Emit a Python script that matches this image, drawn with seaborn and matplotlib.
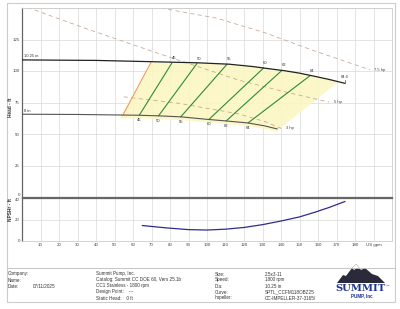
import matplotlib
matplotlib.use("Agg")
import matplotlib.pyplot as plt
import seaborn as sns
import pandas as pd
import numpy as np
from matplotlib.patches import Polygon, Rectangle
from matplotlib.lines import Line2D

# ---------------- data ----------------
dia_max_q = [0, 40, 70, 95, 112, 125, 132, 142, 150, 157.5, 166, 174.6]
dia_max_h = [108.8, 108.4, 107.4, 106.5, 105.4, 103.5, 102.1, 100.2, 98.3, 96.0, 93.3, 90.2]
dia_min_q = [0, 30, 63, 74, 86, 101, 110, 122, 131, 138]
dia_min_h = [65.7, 65.5, 64.9, 64.4, 63.6, 61.5, 60.4, 58.8, 56.5, 54.0]

eff_labels = ["45", "50", "55", "60", "62", "64"]
eff_top_q = [81.0, 94.6, 110.9, 130.6, 140.5, 155.7]
eff_top_h = [106.3, 106.0, 105.5, 102.4, 100.5, 96.3]
eff_bot_q = [63.4, 73.8, 85.8, 101.0, 110.4, 122.2]
eff_bot_h = [64.9, 64.4, 63.6, 61.5, 60.4, 58.8]
end_label = "64.6"

hp_labels = ["7.5 hp", "5 hp", "3 hp"]
hp75_q = [75, 105, 131, 158, 188]
hp75_h = [150, 142, 130.5, 116, 101]
hp5_q = [3, 35, 73, 117, 142, 166]
hp5_h = [150.4, 133.5, 114.3, 92.8, 83.5, 75.3]
hp3_q = [55, 85, 117, 131, 140]
hp3_h = [79.5, 74.3, 66.0, 60.0, 54.5]

region_q = [52.7, 69.7, 82, 95, 112, 125, 132, 142, 150, 157.5, 166, 171, 137.6, 131, 122, 110, 101, 86, 74, 63.4]
region_h = [62.3, 107.2, 106.3, 106.0, 105.4, 103.5, 102.1, 100.2, 98.3, 96.0, 93.3, 91.4, 52.0, 54.0, 56.3, 57.9, 59.0, 61.1, 61.9, 62.4]
por_q = [54.5, 69.7]
por_h = [64.9, 106.8]

npsh_q = [65, 78, 90, 100, 110, 120, 130, 140, 150, 158, 166, 174.6]
npsh_h = [14.4, 12.2, 10.6, 10.2, 11.0, 12.6, 15.2, 18.6, 22.4, 26.6, 31.2, 36.8]

x_ticks = [10, 20, 30, 40, 50, 60, 70, 80, 90, 100, 110, 120, 130, 140, 150, 160, 170, 180, 190]
x_tick_labels = ["10", "20", "30", "40", "50", "60", "70", "80", "90", "100", "110", "120",
                 "130", "140", "150", "160", "170", "180", "US gpm"]
head_ticks = [0, 25, 50, 75, 100, 125]
npsh_ticks = [0, 20, 40]

info_left_keys = ["Company:", "Name:", "Date:"]
info_left_vals = ["", "", "07/11/2025"]
info_mid = ["Summit Pump, Inc.", "Catalog: Summit CC DOE 60, Vers 25.1b",
            "CC1 Stainless - 1800 rpm", "Design Point:    ---", "Static Head:    0 ft"]
info_right_keys = ["Size:", "Speed:", "Dia:", "Curve:", "Impeller:"]
info_right_vals = ["2.5x3-11", "1800 rpm", "10.25 in", "SPTL_CCFM118OBZ25", "CC-IMPELLER-37-3165/"]

# ---------------- styling ----------------
sns.set_style("white")
plt.rcParams['font.family'] = ['Liberation Sans', 'DejaVu Sans']

W, H = 400, 309
fig = plt.figure(figsize=(W / 100, H / 100), dpi=100)
fig.patch.set_facecolor("white")

def fx(px):
    return px / W

def fy(py):
    return 1 - py / H

# outer frame
fig.add_artist(Rectangle((fx(7), fy(302)), fx(395) - fx(7), fy(3) - fy(302),
                         transform=fig.transFigure, fill=False, ec="#cccccc", lw=0.8))
fig.add_artist(Line2D([fx(7), fx(395)], [fy(268), fy(268)], transform=fig.transFigure,
                      color="#bbbbbb", lw=0.6))

L, R = 22, 392
ax = fig.add_axes([fx(L), fy(197), fx(R) - fx(L), fy(8) - fy(197)])
ax2 = fig.add_axes([fx(L), fy(241), fx(R) - fx(L), fy(198) - fy(241)])

grid_c = "#d9d9d9"
for a in (ax, ax2):
    a.set_xlim(0, 200)
    a.set_xticks(x_ticks)
    a.grid(True, color=grid_c, lw=0.5)
    a.tick_params(length=0, labelsize=3.2, colors="#444444", pad=1.5)
    for s in a.spines.values():
        s.set_color("#cccccc")
        s.set_linewidth(0.6)
    a.spines['left'].set_color("#666666")
    a.spines['left'].set_linewidth(0.9)
    a.set_axisbelow(True)

ax.set_ylim(0, 150)
ax.set_yticks(head_ticks + [150])
ax.set_yticklabels([str(t) for t in head_ticks] + [""])
ax.set_xticklabels([])
ax.spines['bottom'].set_color("#666666")
ax.spines['bottom'].set_linewidth(0.9)
ax.get_yticklabels()[0].set_va("bottom")

ax2.set_ylim(0, 40)
ax2.set_yticks(npsh_ticks)
ax2.set_yticklabels([str(t) for t in npsh_ticks])
ax2.set_xticklabels(x_tick_labels)
ax2.spines['top'].set_color("#666666")
ax2.spines['top'].set_linewidth(0.9)
ax2.get_yticklabels()[-1].set_va("top")

fig.text(fx(10), fy(107), "Head - ft", rotation=90, ha="center", va="center",
         fontsize=3.4, color="#333333", fontweight="bold")
fig.text(fx(10), fy(210), "NPSHr - ft", rotation=90, ha="center", va="center",
         fontsize=3.4, color="#333333", fontweight="bold")

# POR region
ax.add_patch(Polygon(np.column_stack([region_q, region_h]), closed=True,
                     fc="#fbf7c2", ec="none", alpha=0.9, zorder=1))
sns.lineplot(x=por_q, y=por_h, ax=ax, color="#f0906a", lw=0.7, zorder=3, sort=False)

# hp lines
for q, h in [(hp75_q, hp75_h), (hp5_q, hp5_h), (hp3_q, hp3_h)]:
    sns.lineplot(x=q, y=h, ax=ax, color="#c9aa96", lw=0.6, dashes=False,
                 linestyle=(0, (5, 4)), zorder=2, sort=False)
for lab, q, h in zip(hp_labels, [hp75_q, hp5_q, hp3_q], [hp75_h, hp5_h, hp3_h]):
    ax.text(q[-1] + 2.5, h[-1], lab, fontsize=3.0, color="#444444", va="center", ha="left")

# efficiency lines
for tq, th, bq, bh in zip(eff_top_q, eff_top_h, eff_bot_q, eff_bot_h):
    sns.lineplot(x=[bq, tq], y=[bh, th], ax=ax, color="#2e8b3a", lw=0.8, zorder=4, sort=False)
for lab, tq, th, bq, bh in zip(eff_labels, eff_top_q, eff_top_h, eff_bot_q, eff_bot_h):
    ax.text(tq + 1.0, th + 2.3, lab, fontsize=3.0, color="#333333", ha="center", va="bottom")
    ax.text(bq, bh - 2.2, lab, fontsize=3.0, color="#333333", ha="center", va="top")

# diameter curves
sns.lineplot(x=dia_max_q, y=dia_max_h, ax=ax, color="#222222", lw=0.9, zorder=5, sort=False)
sns.lineplot(x=dia_min_q, y=dia_min_h, ax=ax, color="#555555", lw=0.8, zorder=5, sort=False)
ax.text(1.2, dia_max_h[0] + 1.2, "10.25 in", fontsize=3.0, color="#333333", va="bottom")
ax.text(1.2, dia_min_h[0] + 1.2, "8 in", fontsize=3.0, color="#333333", va="bottom")
ax.plot([dia_max_q[-1], dia_max_q[-1]], [dia_max_h[-1], dia_max_h[-1] + 2.5],
        color="#2e8b3a", lw=0.6, zorder=5)
ax.text(dia_max_q[-1], dia_max_h[-1] + 3.2, end_label, fontsize=3.0, color="#333333",
        ha="center", va="bottom")

# NPSH curve
sns.lineplot(x=npsh_q, y=npsh_h, ax=ax2, color="#2f2b8c", lw=0.9, sort=False)
ax.set_xlabel(""); ax.set_ylabel("")
ax2.set_xlabel(""); ax2.set_ylabel("")

# info table
fs = 3.3
tc = "#333333"
rows_y = [274, 280, 286, 292, 298]
for k, v, y in zip(info_left_keys, info_left_vals, rows_y):
    fig.text(fx(8), fy(y), k, fontsize=fs, color=tc, va="center")
    fig.text(fx(33), fy(y), v, fontsize=fs, color=tc, va="center")
for t, y in zip(info_mid, rows_y):
    fig.text(fx(96), fy(y), t, fontsize=fs, color=tc, va="center")
for k, v, y in zip(info_right_keys, info_right_vals, rows_y):
    fig.text(fx(215), fy(y), k, fontsize=fs, color=tc, va="center")
    fig.text(fx(265), fy(y), v, fontsize=fs, color=tc, va="center")

# logo
mount = [(337, 283), (343, 275), (346, 276), (352, 268), (356, 264), (361, 270),
         (365, 268), (372, 274), (378, 276), (385, 283)]
fig.add_artist(Polygon([(fx(a), fy(b)) for a, b in mount], closed=True,
                       transform=fig.transFigure, fc="#2a2a3a", ec="none"))
snow = [(352, 268), (356, 264), (360, 269), (357, 268), (354, 270)]
fig.add_artist(Polygon([(fx(a), fy(b)) for a, b in snow], closed=True,
                       transform=fig.transFigure, fc="white", ec="none"))
fig.text(fx(361), fy(288.5), "SUMMIT", fontsize=7.2, fontweight="bold", color="#1f3590",
         ha="center", va="center", family="DejaVu Serif")
fig.text(fx(386), fy(286), "™", fontsize=2.5, color="#1f3590", ha="left", va="center")
fig.text(fx(362), fy(296), "PUMP, Inc", fontsize=3.3, fontweight="bold", color="#1f3590",
         ha="center", va="center")

fig.savefig("out.png", dpi=100, facecolor="white")
